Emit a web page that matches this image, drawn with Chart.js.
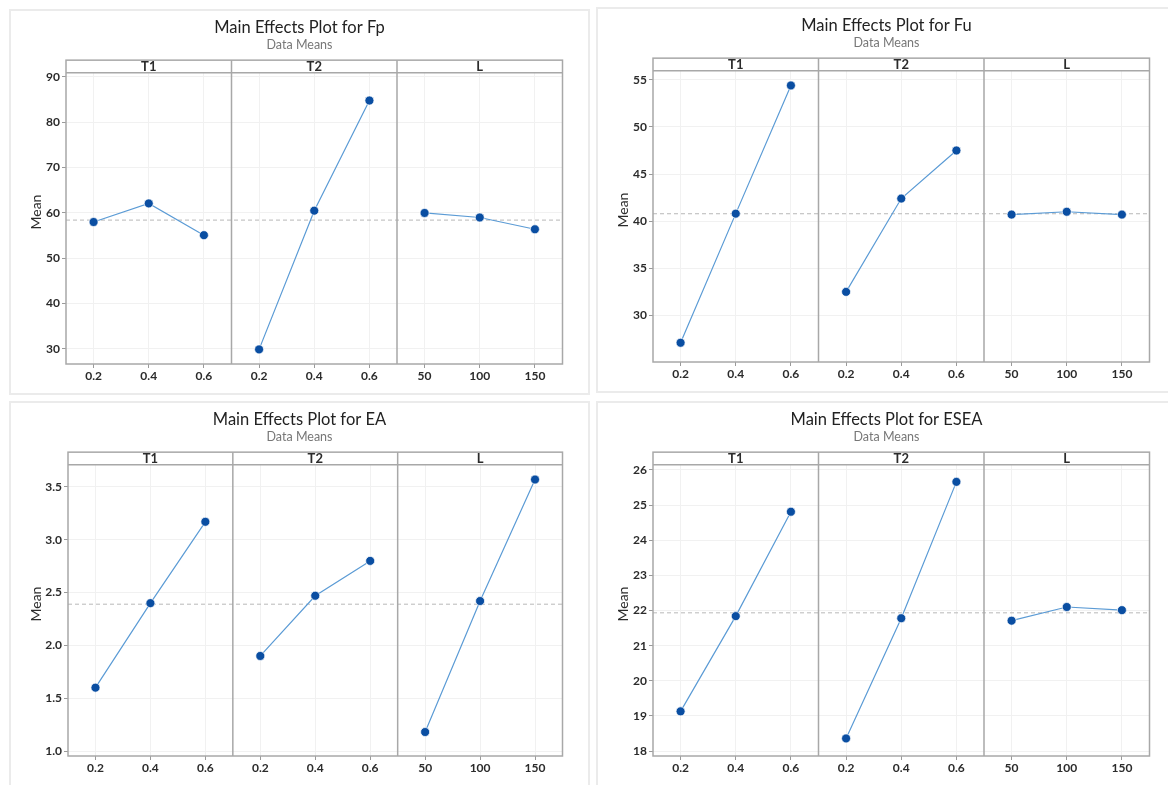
<!DOCTYPE html>
<html>
<head>
<meta charset="utf-8">
<script src="https://cdn.jsdelivr.net/npm/chart.js@4.4.1/dist/chart.umd.min.js"></script>
<style>
  body { margin: 0; background: #fff; width: 1168px; height: 785px; overflow: hidden; position: relative; }
  .panel { position: absolute; width: 581px; height: 386px; box-shadow: inset 0 0 0 2px #ebebeb; }
  .panel canvas { position: absolute; left: 0; top: 0; }
</style>
</head>
<body>
<div class="panel" style="left:9px;top:9px"><canvas id="fpChart" width="581" height="386"></canvas></div>
<div class="panel" style="left:596px;top:7px"><canvas id="fuChart" width="581" height="386"></canvas></div>
<div class="panel" style="left:9px;top:401px"><canvas id="eaChart" width="581" height="386"></canvas></div>
<div class="panel" style="left:596px;top:401px"><canvas id="eseaChart" width="581" height="386"></canvas></div>
<script>
  // factors and their levels
  const factors = ['T1', 'T2', 'L'];
  const levelsT1 = ['0.2', '0.4', '0.6'];
  const levelsT2 = ['0.2', '0.4', '0.6'];
  const levelsL = ['50', '100', '150'];

  // means
  const fpT1 = [58.0, 62.1, 55.1];
  const fpT2 = [29.9, 60.5, 84.8];
  const fpL = [60.0, 59.0, 56.4];

  const fuT1 = [27.1, 40.8, 54.4];
  const fuT2 = [32.5, 42.4, 47.5];
  const fuL = [40.7, 41.0, 40.7];

  const eaT1 = [1.60, 2.40, 3.17];
  const eaT2 = [1.90, 2.47, 2.80];
  const eaL = [1.18, 2.42, 3.57];

  const eseaT1 = [19.13, 21.84, 24.81];
  const eseaT2 = [18.36, 21.78, 25.66];
  const eseaL = [21.71, 22.10, 22.01];

  // y tick labels
  const fpTicks = [30, 40, 50, 60, 70, 80, 90];
  const fuTicks = [30, 35, 40, 45, 50, 55];
  const eaTicks = [1.0, 1.5, 2.0, 2.5, 3.0, 3.5];
  const eseaTicks = [18, 19, 20, 21, 22, 23, 24, 25, 26];

  const xLabels = [].concat(levelsT1, levelsT2, levelsL);

  Chart.defaults.font.family = 'Lato, "Open Sans", sans-serif';
  Chart.defaults.color = '#333';

  const STRIP = 12.5;

  const stripPlugin = {
    id: 'strips',
    afterDraw(chart) {
      const { ctx, chartArea: a, scales: { x } } = chart;
      const top = a.top - STRIP;
      ctx.save();
      ctx.strokeStyle = '#a8a8a8';
      ctx.lineWidth = 1.5;
      ctx.strokeRect(a.left, top, a.right - a.left, a.bottom - top);
      ctx.beginPath();
      ctx.moveTo(a.left, a.top);
      ctx.lineTo(a.right, a.top);
      [2.5, 5.5].forEach(v => {
        const px = x.getPixelForValue(v);
        ctx.moveTo(px, top);
        ctx.lineTo(px, a.bottom);
      });
      ctx.stroke();

      ctx.fillStyle = '#2b2b2b';
      ctx.textAlign = 'center';
      ctx.textBaseline = 'middle';
      ctx.font = 'bold 13px Lato';
      factors.forEach((f, i) => ctx.fillText(f, x.getPixelForValue(3 * i + 1), top + STRIP / 2 + 0.5));

      // y axis title, centred on the whole frame
      ctx.translate(27, (top + a.bottom) / 2);
      ctx.rotate(-Math.PI / 2);
      ctx.font = '14px Lato';
      ctx.fillText('Mean', 0, 0);
      ctx.restore();
    }
  };

  function drawPanel(id, name, series, yTicks, yMin, yMax, decimals, yWidth) {
    const all = [].concat(...series);
    const grand = all.reduce((s, v) => s + v, 0) / all.length;

    const datasets = series.map((vals, i) => ({
      data: vals.map((v, k) => ({ x: 3 * i + k, y: v })),
      borderColor: '#5b9bd5',
      borderWidth: 1.2,
      pointRadius: 4.5,
      pointBackgroundColor: '#0a4ea2',
      pointBorderColor: 'rgba(255,255,255,0.7)',
      pointBorderWidth: 1,
      order: 1
    }));
    datasets.push({
      data: [{ x: -0.5, y: grand }, { x: 8.5, y: grand }],
      borderColor: '#b8b8b8',
      borderWidth: 1,
      borderDash: [4, 3],
      pointRadius: 0,
      order: 5
    });

    return new Chart(document.getElementById(id).getContext('2d'), {
      type: 'line',
      data: { datasets },
      options: {
        responsive: false,
        animation: false,
        devicePixelRatio: 1,
        layout: { padding: 0 },
        plugins: {
          legend: { display: false },
          tooltip: { enabled: false },
          title: {
            display: true,
            text: 'Main Effects Plot for ' + name,
            color: '#222',
            font: { size: 16.5, weight: 'normal', lineHeight: 1.1 },
            padding: { top: 10, bottom: 0 }
          },
          subtitle: {
            display: true,
            text: 'Data Means',
            color: '#777',
            font: { size: 12.5, lineHeight: 1.2 },
            padding: { top: 0, bottom: 20.5 }
          }
        },
        scales: {
          x: {
            type: 'linear',
            min: -0.5,
            max: 8.5,
            border: { display: false },
            grid: { color: '#f1f1f1', tickColor: '#9a9a9a', tickLength: 4 },
            ticks: {
              padding: 1,
              autoSkip: false,
              maxRotation: 0,
              color: '#2b2b2b',
              font: { size: 12, weight: 'bold' },
              callback: v => xLabels[v]
            },
            afterBuildTicks: s => { s.ticks = xLabels.map((_, i) => ({ value: i })); },
            afterFit: s => { s.height = 31; }
          },
          y: {
            min: yMin,
            max: yMax,
            border: { display: false },
            grid: { color: '#f1f1f1', tickColor: '#9a9a9a', tickLength: 4 },
            ticks: {
              padding: 2,
              color: '#2b2b2b',
              font: { size: 12, weight: 'bold' },
              callback: v => v.toFixed(decimals)
            },
            afterBuildTicks: s => { s.ticks = yTicks.map(v => ({ value: v })); },
            afterFit: s => { s.width = yWidth; }
          },
          // empty right-hand margin so titles stay centred on the panel
          yRight: {
            position: 'right',
            min: yMin,
            max: yMax,
            border: { display: false },
            grid: { display: false },
            ticks: { display: false },
            afterFit: s => { s.width = 27.5; }
          }
        }
      },
      plugins: [stripPlugin]
    });
  }

  drawPanel('fpChart', 'Fp', [fpT1, fpT2, fpL], fpTicks, 26.68, 90.95, 0, 57);
  drawPanel('fuChart', 'Fu', [fuT1, fuT2, fuL], fuTicks, 25.06, 55.97, 0, 57);
  drawPanel('eaChart', 'EA', [eaT1, eaT2, eaL], eaTicks, 0.953, 3.711, 1, 59);
  drawPanel('eseaChart', 'ESEA', [eseaT1, eseaT2, eseaL], eseaTicks, 17.86, 26.15, 0, 57);
</script>
</body>
</html>
